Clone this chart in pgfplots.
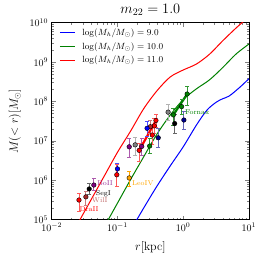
\documentclass[border=0pt]{standalone}
\usepackage{pgfplots}
\pgfplotsset{compat=1.18}
\definecolor{mblue}{rgb}{0,0,1}
\definecolor{mgreen}{rgb}{0,0.5,0}
\definecolor{mred}{rgb}{1,0,0}
\definecolor{mbrown}{rgb}{0.65,0.16,0.16}
\definecolor{mpurple}{rgb}{0.5,0,0.5}
\definecolor{mgray}{rgb}{0.5,0.5,0.5}
\definecolor{morange}{rgb}{1,0.65,0}
\definecolor{mnavy}{rgb}{0,0,0.55}
\begin{document}
\begin{tikzpicture}
\useasboundingbox (-51.7pt,-46.3pt) rectangle (214.3pt,219.7pt);
\begin{loglogaxis}[
  scale only axis, width=197.3pt, height=197pt,
  xmin=1e-2, xmax=10, ymin=1e5, ymax=1e10,
  major tick length=4pt, minor tick length=2pt,
  tick style={line width=0.5pt},
  axis line style={line width=0.8pt},
  title={$m_{22}=1.0$},
  title style={font=\Large, at={(0.5,1)}, anchor=south, yshift=-2pt},
  xlabel={$r[\mathrm{kpc}]$},
  ylabel={$M(<r)[M_\odot]$},
  every axis x label/.style={at={(axis description cs:0.5,-0.139)}, anchor=center, font=\large},
  every axis y label/.style={at={(axis description cs:-0.186,0.5)}, rotate=90, anchor=center, font=\large},
  unbounded coords=jump,
]
\addplot[mblue, line width=1pt, smooth] coordinates {(0.15849,5.3703e4) (0.25119,1.9953e5) (0.39811,7.0795e5) (0.63096,2.2909e6) (1,7.0795e6) (1.5849,2.5119e7) (2.2909,6.0256e7) (3.1623,9.5499e7) (3.9811,1.1749e8) (5.0119,1.3804e8) (7.2444,2.2909e8) (10,3.8019e8)};
\addplot[mgreen, line width=1pt, smooth] coordinates {(0.063096,6.6069e4) (0.1,2.6303e5) (0.15849,1.0471e6) (0.25119,3.9811e6) (0.39811,1.4791e7) (0.63096,4.4668e7) (1,1.122e8) (1.5849,2.0893e8) (2.5119,3.5481e8) (3.9811,7.2444e8) (6.3096,1.5849e9) (10,2.884e9)};
\addplot[mred, line width=1pt, smooth] coordinates {(0.025119,8.128e4) (0.039811,3.2359e5) (0.063096,1.2882e6) (0.1,5.1286e6) (0.15849,1.7783e7) (0.25119,6.6069e7) (0.39811,1.8621e8) (0.63096,4.1687e8) (1,6.3096e8) (1.5849,8.9125e8) (2.5119,1.5849e9) (3.9811,3.4674e9) (6.3096,7.2444e9) (8.9125,1.2023e10)};
% error bars
\pgfplotsset{errbar/.style={color=#1, mark=-, mark size=2pt, line width=0.8pt, forget plot, mark options={solid, line width=0.8pt}}}
\addplot[errbar=mred!65] coordinates {(0.026,1.585e5) (0.026,4.68e5) (nan,nan) (0.0977,7.08e5) (0.0977,2.51e6) (nan,nan) (0.214,2.95e6) (0.214,8.71e6) (nan,nan) (0.363,1.51e7) (0.363,3.63e7) (nan,nan) (0.385,2.19e7) (0.385,4.79e7) (nan,nan) (0.339,8.32e6) (0.339,2.29e7)};
\addplot[errbar=mbrown!60] coordinates {(0.0331,2.24e5) (0.0331,5.13e5) (nan,nan) (0.316,1.51e7) (0.316,3.31e7)};
\addplot[errbar=black!60] coordinates {(0.0372,4.27e5) (0.0372,8.32e5) (nan,nan) (0.741,1.51e7) (0.741,4.79e7)};
\addplot[errbar=mpurple!65] coordinates {(0.0437,5.62e5) (0.0437,1.148e6) (nan,nan) (0.151,3.80e6) (0.151,1.175e7) (nan,nan) (0.234,4.37e6) (0.234,1.148e7)};
\addplot[errbar=mblue!70] coordinates {(0.1,1.38e6) (0.1,2.63e6) (nan,nan) (0.282,1.318e7) (0.282,3.16e7)};
\addplot[errbar=mnavy!60] coordinates {(0.417,6.76e6) (0.417,2.09e7) (nan,nan) (1.023,1.905e7) (1.023,5.62e7)};
\addplot[errbar=morange] coordinates {(0.151,7.08e5) (0.151,1.70e6)};
\addplot[errbar=mgray!60] coordinates {(0.186,4.37e6) (0.186,1.23e7) (nan,nan) (0.589,3.31e7) (0.589,8.51e7)};
\addplot[errbar=mgreen!80] coordinates {(0.309,4.68e6) (0.309,1.175e7) (nan,nan) (0.708,2.51e7) (0.708,6.61e7) (nan,nan) (0.944,4.68e7) (0.944,1.122e8) (nan,nan) (1.148,7.76e7) (1.148,2.40e8)};
% thick lines
\addplot[color=mred, line width=2.2pt, forget plot] coordinates {(0.214,5.75e6) (0.385,3.31e7)};
\addplot[color=mgreen, line width=2.2pt, forget plot] coordinates {(0.708,4.57e7) (1.148,1.55e8)};
% markers
\pgfplotsset{dpoint/.style={only marks, mark=*, mark size=2.3pt, forget plot, mark options={fill=#1, draw=black, line width=0.4pt}}}
\addplot[dpoint=mred] coordinates {(0.026,3.16e5) (0.0977,1.38e6) (0.214,5.75e6) (0.363,2.40e7) (0.385,3.31e7) (0.339,1.41e7)};
\addplot[dpoint=mbrown] coordinates {(0.0331,3.80e5) (0.316,2.29e7)};
\addplot[dpoint=black] coordinates {(0.0372,6.03e5) (0.741,2.75e7)};
\addplot[dpoint=mpurple] coordinates {(0.0437,7.59e5) (0.151,7.08e6) (0.234,7.24e6)};
\addplot[dpoint=mblue] coordinates {(0.1,1.95e6) (0.282,2.09e7)};
\addplot[dpoint=mnavy] coordinates {(0.417,1.20e7) (1.023,3.39e7)};
\addplot[dpoint=morange] coordinates {(0.151,1.148e6)};
\addplot[dpoint=mgray] coordinates {(0.186,7.94e6) (0.589,5.37e7)};
\addplot[dpoint=mgreen] coordinates {(0.309,7.41e6) (0.708,4.57e7) (0.944,7.41e7) (1.148,1.55e8)};
% labels
\node[anchor=west, inner sep=0pt, text=mgreen, font=\scriptsize] at (1.06,5.37e7) {Fornax};
\node[anchor=west, inner sep=0pt, text=morange, font=\scriptsize] at (0.166,8.51e5) {LeoIV};
\node[anchor=west, inner sep=0pt, text=mpurple!80, font=\scriptsize] at (0.049,8.51e5) {BoII};
\node[anchor=west, inner sep=0pt, text=black, font=\scriptsize] at (0.0468,4.47e5) {SegI};
\node[anchor=west, inner sep=0pt, text=mbrown!70, font=\scriptsize] at (0.0407,3.09e5) {WilI};
\node[anchor=west, inner sep=0pt, text=mred, font=\scriptsize] at (0.0263,1.82e5) {DraII};
% legend
\draw[mblue, line width=1pt] (axis description cs:0.042,0.948) -- (axis description cs:0.118,0.948);
\draw[mgreen, line width=1pt] (axis description cs:0.042,0.877) -- (axis description cs:0.118,0.877);
\draw[mred, line width=1pt] (axis description cs:0.042,0.808) -- (axis description cs:0.118,0.808);
\node[anchor=west, inner sep=0pt, font=\fontsize{9}{10}\selectfont] at (axis description cs:0.154,0.948) {$\log(M_h/M_\odot)=9.0$};
\node[anchor=west, inner sep=0pt, font=\fontsize{9}{10}\selectfont] at (axis description cs:0.154,0.877) {$\log(M_h/M_\odot)=10.0$};
\node[anchor=west, inner sep=0pt, font=\fontsize{9}{10}\selectfont] at (axis description cs:0.154,0.808) {$\log(M_h/M_\odot)=11.0$};
\end{loglogaxis}
\end{tikzpicture}
\end{document}
